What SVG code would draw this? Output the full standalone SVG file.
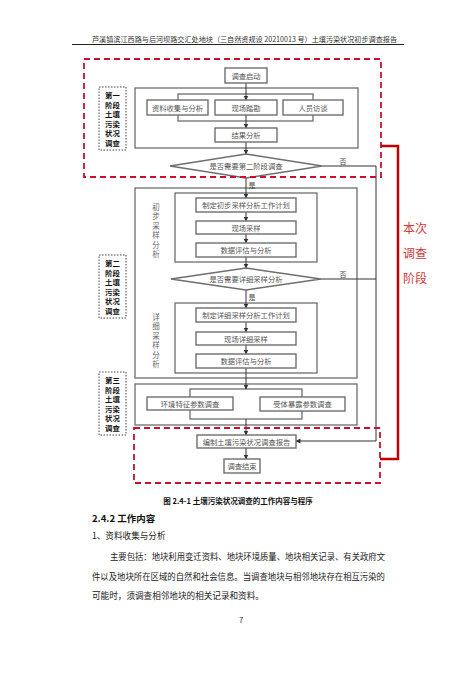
<svg xmlns="http://www.w3.org/2000/svg" width="476" height="673" viewBox="0 0 476 673">
<defs>
<marker id="ah" markerWidth="5" markerHeight="5" refX="4.5" refY="2.5" orient="auto" markerUnits="userSpaceOnUse">
<path d="M0,0 L5,2.5 L0,5 Z" fill="#333"/>
</marker>
<style>
text{font-family:"Noto Sans CJK SC","Liberation Serif",sans-serif;}
.hd{font-size:7px;fill:#333;}
.bx{fill:#fff;stroke:#6e6e6e;stroke-width:1.4;}
.fr{fill:none;stroke:#6e6e6e;stroke-width:1.3;}
.big{fill:#fff;stroke:#6e6e6e;stroke-width:1.3;}
.t{font-size:7.3px;fill:#555;text-anchor:middle;dominant-baseline:central;}
.vt{font-size:7.5px;fill:#666;text-anchor:middle;dominant-baseline:central;}
.lb{fill:#fff;stroke:#333;stroke-width:0.9;stroke-dasharray:1.5 1.5;}
.lt{font-size:7.4px;font-weight:bold;fill:#111;text-anchor:middle;dominant-baseline:central;}
.rd{fill:none;stroke:#c8102e;stroke-width:1.8;stroke-dasharray:6 4;}
.ln{fill:none;stroke:#333;stroke-width:1;}
.yn{font-size:7px;fill:#444;text-anchor:middle;dominant-baseline:central;}
.body{font-size:8.6px;fill:#222;}
</style>
</defs>
<rect width="476" height="673" fill="#fff"/>

<g id="header">
<text class="hd" x="92" y="41.5" textLength="305" lengthAdjust="spacingAndGlyphs">芦溪镇滨江西路与后河坝路交汇处地块（三自然资规设 20210013 号）土壤污染状况初步调查报告</text>
<line x1="72" y1="44.5" x2="404" y2="44.5" stroke="#222" stroke-width="1"/>
</g>

<g id="frames">
<rect class="big" x="135" y="88" width="223" height="60"/>
<rect class="fr" x="178" y="94" width="135" height="27"/>
<rect class="big" x="135" y="188" width="222" height="190"/>
<rect class="fr" x="175" y="193" width="142" height="69"/>
<rect class="fr" x="175" y="303" width="142" height="70"/>
<rect class="big" x="135" y="384" width="222" height="41"/>
<rect class="fr" x="190" y="389" width="112" height="30"/>
<text class="vt" x="156" y="206">初</text>
<text class="vt" x="156" y="215.5">步</text>
<text class="vt" x="156" y="225">采</text>
<text class="vt" x="156" y="234.5">样</text>
<text class="vt" x="156" y="244">分</text>
<text class="vt" x="156" y="253.5">析</text>
<text class="vt" x="156" y="316">详</text>
<text class="vt" x="156" y="325.5">细</text>
<text class="vt" x="156" y="335">采</text>
<text class="vt" x="156" y="344.5">样</text>
<text class="vt" x="156" y="354">分</text>
<text class="vt" x="156" y="363.5">析</text>
</g>

<g id="connectors">
<line class="ln" x1="246" y1="83" x2="246" y2="100" marker-end="url(#ah)"/>
<line class="ln" x1="246" y1="115" x2="246" y2="128" marker-end="url(#ah)"/>
<line class="ln" x1="246" y1="142" x2="246" y2="154" marker-end="url(#ah)"/>
<line class="ln" x1="246" y1="178" x2="246" y2="198" marker-end="url(#ah)"/>
<line class="ln" x1="246" y1="212" x2="246" y2="221" marker-end="url(#ah)"/>
<line class="ln" x1="246" y1="234" x2="246" y2="243" marker-end="url(#ah)"/>
<line class="ln" x1="246" y1="257" x2="246" y2="268" marker-end="url(#ah)"/>
<line class="ln" x1="246" y1="290" x2="246" y2="308" marker-end="url(#ah)"/>
<line class="ln" x1="246" y1="322" x2="246" y2="332" marker-end="url(#ah)"/>
<line class="ln" x1="246" y1="345" x2="246" y2="354" marker-end="url(#ah)"/>
<line class="ln" x1="246" y1="368" x2="246" y2="389" marker-end="url(#ah)"/>
<line class="ln" x1="246" y1="419" x2="246" y2="435" marker-end="url(#ah)"/>
<line class="ln" x1="246" y1="448" x2="246" y2="459" marker-end="url(#ah)"/>
<polyline class="ln" points="322,166 376,166 376,441 296,441" marker-end="url(#ah)"/>
<line class="ln" x1="321" y1="279" x2="376" y2="279"/>
<text class="yn" x="343" y="161">否</text>
<text class="yn" x="343" y="274">否</text>
<text class="yn" x="252" y="185">是</text>
<text class="yn" x="252" y="297">是</text>
</g>

<g id="n_start"><rect class="bx" x="225" y="68" width="42" height="15"/><text class="t" x="246" y="75.5">调查启动</text></g>
<g id="n_ziliao"><rect class="bx" x="147" y="100" width="61" height="15"/><text class="t" x="177.5" y="107.5">资料收集与分析</text></g>
<g id="n_xianchang"><rect class="bx" x="215" y="100" width="62" height="15"/><text class="t" x="246" y="107.5">现场踏勘</text></g>
<g id="n_renyuan"><rect class="bx" x="283" y="100" width="60" height="15"/><text class="t" x="313" y="107.5">人员访谈</text></g>
<g id="n_jieguo"><rect class="bx" x="215" y="128" width="62" height="14"/><text class="t" x="246" y="135">结果分析</text></g>
<g id="d1"><polygon class="bx" points="170,166 246,154 322,166 246,178"/><text class="t" x="246" y="166">是否需要第二阶段调查</text></g>
<g id="n_p1"><rect class="bx" x="196" y="198" width="100" height="14"/><text class="t" x="246" y="205">制定初步采样分析工作计划</text></g>
<g id="n_p2"><rect class="bx" x="196" y="221" width="100" height="13"/><text class="t" x="246" y="227.5">现场采样</text></g>
<g id="n_p3"><rect class="bx" x="196" y="243" width="100" height="14"/><text class="t" x="246" y="250">数据评估与分析</text></g>
<g id="d2"><polygon class="bx" points="171,279 246,268 321,279 246,290"/><text class="t" x="246" y="279">是否需要详细采样分析</text></g>
<g id="n_q1"><rect class="bx" x="196" y="308" width="100" height="14"/><text class="t" x="246" y="315">制定详细采样分析工作计划</text></g>
<g id="n_q2"><rect class="bx" x="196" y="332" width="100" height="13"/><text class="t" x="246" y="338.5">现场详细采样</text></g>
<g id="n_q3"><rect class="bx" x="196" y="354" width="100" height="14"/><text class="t" x="246" y="361">数据评估与分析</text></g>
<g id="n_env"><rect class="bx" x="147" y="397" width="86" height="13"/><text class="t" x="190" y="403.5">环境特征参数调查</text></g>
<g id="n_rec"><rect class="bx" x="260" y="397" width="85" height="14"/><text class="t" x="302.5" y="404">受体暴露参数调查</text></g>
<g id="n_report"><rect class="bx" x="197" y="435" width="99" height="13"/><text class="t" x="246.5" y="441.5">编制土壤污染状况调查报告</text></g>
<g id="n_end"><rect class="bx" x="224" y="459" width="36" height="14"/><text class="t" x="242" y="466">调查结束</text></g>

<g id="stage1"><rect class="lb" x="99" y="87" width="27" height="63"/>
<text class="lt" x="112.5" y="94.5">第一</text><text class="lt" x="112.5" y="104">阶段</text><text class="lt" x="112.5" y="113.5">土壤</text><text class="lt" x="112.5" y="123">污染</text><text class="lt" x="112.5" y="132.5">状况</text><text class="lt" x="112.5" y="142">调查</text></g>
<g id="stage2"><rect class="lb" x="99" y="255" width="27" height="63"/>
<text class="lt" x="112.5" y="262.5">第二</text><text class="lt" x="112.5" y="272">阶段</text><text class="lt" x="112.5" y="281.5">土壤</text><text class="lt" x="112.5" y="291">污染</text><text class="lt" x="112.5" y="300.5">状况</text><text class="lt" x="112.5" y="310">调查</text></g>
<g id="stage3"><rect class="lb" x="99" y="372" width="27" height="63"/>
<text class="lt" x="112.5" y="379.5">第三</text><text class="lt" x="112.5" y="389">阶段</text><text class="lt" x="112.5" y="398.5">土壤</text><text class="lt" x="112.5" y="408">污染</text><text class="lt" x="112.5" y="417.5">状况</text><text class="lt" x="112.5" y="427">调查</text></g>

<g id="red_marks">
<rect class="rd" x="84" y="59" width="297" height="118"/>
<rect class="rd" x="134" y="428" width="246" height="55"/>
<polyline points="381,146 398,146 398,459 380,459" fill="none" stroke="#c00000" stroke-width="2.5"/>
<text x="415" y="227" font-size="12" fill="#d03a3a" text-anchor="middle" dominant-baseline="central">本次</text>
<text x="415" y="252" font-size="12" fill="#d03a3a" text-anchor="middle" dominant-baseline="central">调查</text>
<text x="415" y="277" font-size="12" fill="#d03a3a" text-anchor="middle" dominant-baseline="central">阶段</text>
</g>

<g id="caption">
<text x="238" y="500" font-size="7.5" font-weight="bold" fill="#111" text-anchor="middle" dominant-baseline="central">图 2.4-1  土壤污染状况调查的工作内容与程序</text>
</g>
<g id="body">
<text x="92" y="521.5" font-size="9.5" font-weight="bold" fill="#111">2.4.2 工作内容</text>
<text class="body" x="92" y="539">1、资料收集与分析</text>
<text class="body" x="110" y="560" textLength="275" lengthAdjust="spacingAndGlyphs">主要包括：地块利用变迁资料、地块环境质量、地块相关记录、有关政府文</text>
<text class="body" x="92" y="580" textLength="293" lengthAdjust="spacingAndGlyphs">件以及地块所在区域的自然和社会信息。当调查地块与相邻地块存在相互污染的</text>
<text class="body" x="92" y="599">可能时，须调查相邻地块的相关记录和资料。</text>
<text x="241" y="623" font-size="7.5" fill="#333" text-anchor="middle">7</text>
</g>
</svg>
